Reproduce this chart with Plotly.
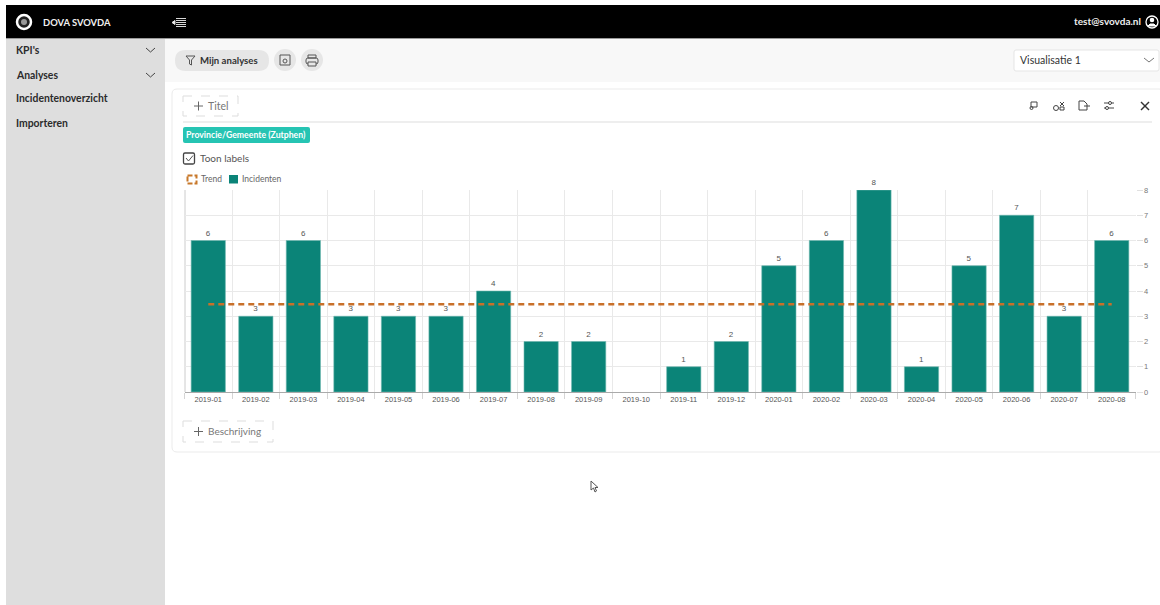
import plotly.graph_objects as go

months = ["2019-01","2019-02","2019-03","2019-04","2019-05","2019-06","2019-07","2019-08","2019-09","2019-10",
          "2019-11","2019-12","2020-01","2020-02","2020-03","2020-04","2020-05","2020-06","2020-07","2020-08"]
incidenten = [6,3,6,3,3,3,4,2,2,0,1,2,5,6,8,1,5,7,3,6]
trend = [3.48]*20
tick_values = [0,1,2,3,4,5,6,7,8]

W, H = 1160, 605
X = lambda p: p / W
Y = lambda p: 1 - p / H
UI = "Lato, 'Noto Sans', sans-serif"
shapes, ann = [], []

def rect(x0, y0, x1, y1, fill="rgba(0,0,0,0)", line=None, lw=1, dash=None):
    shapes.append(dict(type="rect", xref="paper", yref="paper", x0=X(x0), x1=X(x1), y0=Y(y0), y1=Y(y1),
                       fillcolor=fill, layer="below", line=dict(color=line or "rgba(0,0,0,0)", width=lw if line else 0, dash=dash)))

def oval(cx, cy, r, fill="rgba(0,0,0,0)", line=None, lw=1):
    shapes.append(dict(type="circle", xref="paper", yref="paper", x0=X(cx-r), x1=X(cx+r), y0=Y(cy-r), y1=Y(cy+r),
                       fillcolor=fill, layer="below", line=dict(color=line or "rgba(0,0,0,0)", width=lw if line else 0)))

def seg(x0, y0, x1, y1, color="#555", lw=1):
    shapes.append(dict(type="line", xref="paper", yref="paper", x0=X(x0), x1=X(x1), y0=Y(y0), y1=Y(y1),
                       layer="below", line=dict(color=color, width=lw)))

def rpath(x0, y0, x1, y1, r, fill="rgba(0,0,0,0)", line=None, lw=1, dash=None):
    a, b, c, d = X(x0), X(x1), Y(y0), Y(y1)
    rx, ry = r / W, r / H
    p = (f"M {a+rx} {c} L {b-rx} {c} Q {b} {c} {b} {c-ry} L {b} {d+ry} Q {b} {d} {b-rx} {d} "
         f"L {a+rx} {d} Q {a} {d} {a} {d+ry} L {a} {c-ry} Q {a} {c} {a+rx} {c} Z")
    shapes.append(dict(type="path", xref="paper", yref="paper", path=p, fillcolor=fill, layer="below",
                       line=dict(color=line or "rgba(0,0,0,0)", width=lw if line else 0, dash=dash)))

def poly(pts, fill="rgba(0,0,0,0)", line="#555", lw=1, close=True):
    p = "M " + " L ".join(f"{X(a)} {Y(b)}" for a, b in pts) + (" Z" if close else "")
    shapes.append(dict(type="path", xref="paper", yref="paper", path=p, fillcolor=fill, layer="below",
                       line=dict(color=line, width=lw)))

def txt(x, y, s, size=11, color="#333", bold=False, anchor="left", font=UI):
    ann.append(dict(xref="paper", yref="paper", x=X(x), y=Y(y), text=f"<b>{s}</b>" if bold else s, showarrow=False,
                    xanchor=anchor, yanchor="middle", xshift=-2 if anchor == "left" else 2,
                    font=dict(family=font, size=size, color=color)))

# page chrome
rect(6, 5, W, 38, fill="#000000")
seg(6, 38.5, W, 38.5, "#9a9a9a", 1)
rect(6, 39, 165, H, fill="#dedede")
rect(165, 39, W, 82, fill="#f8f8f8")
oval(24, 22, 7, fill="#222", line="#ffffff", lw=2.5)
oval(24, 22, 3, fill="#999")
txt(43, 22, "DOVA SVOVDA", 9.4, "#f0f0f0", True)
for yy in (18.5, 20.5, 22.5, 24.5, 26.5):
    seg(176, yy, 186, yy, "#d8d8d8", 1)
poly([(172, 22.5), (175, 20.5), (175, 24.5)], fill="#e8e8e8", line="#e8e8e8")
txt(1141, 21, "test@svovda.nl", 10, "#eeeeee", True, "right")
oval(1152, 22, 6, fill="#000", line="#ffffff", lw=1.3)
oval(1152, 20, 2.3, fill="#fff")
poly([(1148, 26), (1150, 24), (1154, 24), (1156, 26)], fill="#fff", line="#fff")

# sidebar
for yy, s in zip((50, 74.5, 98.5, 122.5), ("KPI's", "Analyses", "Incidentenoverzicht", "Importeren")):
    txt(16, yy, s, 10.4, "#2b2b2b", True)
for yy in (50, 75):
    poly([(146, yy-2), (150.5, yy+2), (155, yy-2)], line="#444", close=False)

# toolbar
rpath(175, 50, 269, 71, 10.5, fill="#e6e6e6")
poly([(186, 56), (195, 56), (191.5, 60), (191.5, 65), (189.5, 64), (189.5, 60)], line="#555")
txt(200, 60, "Mijn analyses", 9.6, "#333", True)
oval(285, 60, 11, fill="#e6e6e6")
oval(312, 60, 11, fill="#e6e6e6")
rect(280, 55, 290, 65, line="#555")
oval(285, 61, 2, line="#555")
rect(308, 55, 316, 58, line="#555")
rpath(306, 58, 318, 64, 2, line="#555")
rect(308, 62, 316, 66, fill="#e6e6e6", line="#555")
rpath(1014, 50, 1159, 71, 2, fill="#ffffff", line="#e5e5e5")
txt(1020, 60, "Visualisatie 1", 10.5, "#333")
poly([(1144, 58), (1149, 62), (1154, 58)], line="#777", close=False)

# card
rpath(172, 89, W + 4, 452, 5, fill="#ffffff", line="#ebebeb")
rect(183, 96, 238, 116, line="#dddddd", dash="dash")
seg(194, 106, 203, 106, "#666"); seg(198.5, 101.5, 198.5, 110.5, "#666")
txt(208, 105.5, "Titel", 10.5, "#777")
seg(183, 122, 1152, 122, "#e8e8e8", 1.5)
rpath(183, 127, 310, 143, 2, fill="#26c4b3")
txt(186, 134.5, "Provincie/Gemeente (Zutphen)", 8.7, "#ffffff", True)
rpath(183.5, 153, 194.5, 164, 1.5, line="#444", lw=1.3)
poly([(186, 158), (188.5, 161), (193, 155.5)], line="#555", close=False)
txt(200, 158, "Toon labels", 10, "#555")
rect(183, 421, 273, 442, line="#dddddd", dash="dash")
seg(194, 431.5, 203, 431.5, "#666"); seg(198.5, 427, 198.5, 436, "#666")
txt(208, 431, "Beschrijving", 10, "#777")

# card tool icons
rect(1031, 102, 1037, 107, line="#444"); oval(1031.5, 108, 1.5, line="#444")
oval(1056, 108, 2.5, line="#444"); seg(1060, 102, 1064, 106, "#444"); seg(1060, 106, 1064, 102, "#444"); rect(1060, 107, 1064, 110, line="#444")
poly([(1079, 101), (1084, 101), (1087, 104), (1087, 110), (1079, 110)], line="#444")
seg(1084, 106, 1090, 106, "#444")
seg(1104, 103, 1114, 103, "#444"); seg(1104, 108, 1114, 108, "#444"); oval(1110, 103, 1.5, fill="#fff", line="#444"); oval(1107, 108, 1.5, fill="#fff", line="#444")
seg(1141, 102, 1149, 110, "#333", 1.4); seg(1149, 102, 1141, 110, "#333", 1.4)

# legend
rect(187.5, 175.5, 196.5, 183.5, line="#c8782a", lw=2, dash="5px,2px")
txt(201, 179, "Trend", 8.5, "#666")
rect(229, 175, 238, 183.5, fill="#0b8478")
txt(242, 179, "Incidenten", 8.5, "#666")

# mouse pointer
poly([(591, 481), (591, 490), (593.5, 488), (595, 492), (596.5, 491), (595, 487.5), (598, 487.5)], fill="#fff", line="#555")
seg(185, 190, 185, 392, "#cccccc", 1)

fig = go.Figure()
fig.add_bar(x=months, y=incidenten, name="Incidenten",
            marker=dict(color="#0b8478", line=dict(color="#6fb9b0", width=[0.6 if v else 0 for v in incidenten])),
            text=[str(v) if v else "" for v in incidenten], textposition="outside", cliponaxis=False,
            textfont=dict(family="Liberation Sans, Arial", size=8, color="#555"), showlegend=False)
fig.add_scatter(x=months, y=trend, name="Trend", mode="lines", line=dict(color="#c8702a", width=2.5, dash="6px,4px"), showlegend=False)

fig.update_layout(
    width=W, height=H, autosize=False, margin=dict(l=0, r=0, t=0, b=0), paper_bgcolor="#ffffff", plot_bgcolor="rgba(0,0,0,0)",
    bargap=0.28, shapes=shapes, annotations=ann, showlegend=False,
    xaxis=dict(domain=[X(184.5), X(1135.5)], type="category", tickson="boundaries", ticks="outside", ticklen=6, tickcolor="#d5d5d5",
               showgrid=True, gridcolor="#e9e9e9", gridwidth=1, showline=True, linecolor="#aaaaaa", linewidth=1,
               tickfont=dict(family="Liberation Sans, Arial", size=7.5, color="#555"), tickangle=0, automargin=False),
    yaxis=dict(domain=[Y(392), Y(190)], side="right", range=[0, 8], tickvals=tick_values, ticks="outside", ticklen=6, tickcolor="#e0e0e0",
               showgrid=True, gridcolor="#e9e9e9", gridwidth=1, zeroline=False, showline=False,
               tickfont=dict(family="Liberation Sans, Arial", size=7.5, color="#777"), automargin=False),
)

fig.write_html("out.html", config=dict(displayModeBar=False),
               post_script="document.body.style.margin='0';document.body.style.overflow='hidden';")
